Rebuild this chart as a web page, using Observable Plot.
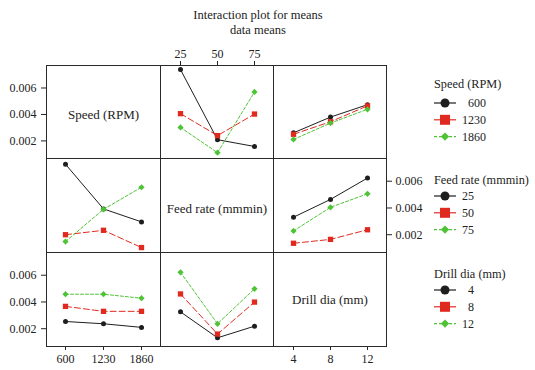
<!DOCTYPE html>
<html><head><meta charset="utf-8">
<script src="https://cdn.jsdelivr.net/npm/d3@7"></script>
<script src="https://cdn.jsdelivr.net/npm/@observablehq/plot@0.6"></script>
<style>
body{margin:0;background:#fff;}
#chart{position:relative;width:535px;height:370px;font-family:"Liberation Serif","Times New Roman",Times,serif;color:#222;overflow:hidden;}
#chart svg{position:absolute;overflow:visible;}
.title{position:absolute;left:158px;top:7.5px;width:200px;text-align:center;font-size:12.5px;line-height:15px;}
</style></head><body><div id="chart"><div class="title">Interaction plot for means<br>data means</div></div>
<script>
// Factor levels (tick labels)
const speedLevels = ["600", "1230", "1860"];
const feedLevels = ["25", "50", "75"];
const drillLevels = ["4", "8", "12"];
const factorNames = ["Speed (RPM)", "Feed rate (mmmin)", "Drill dia (mm)"];
const yTicks = [0.002, 0.004, 0.006];

// Means: rows = series (levels of row factor), cols = x levels (column factor)
const speedXfeed  = [[0.00739, 0.00209, 0.00158], [0.00406, 0.00240, 0.00403], [0.00302, 0.00111, 0.00570]];
const speedXdrill = [[0.00261, 0.00380, 0.00474], [0.00250, 0.00345, 0.00465], [0.00211, 0.00335, 0.00439]];
const feedXspeed  = [[0.00727, 0.00393, 0.00296], [0.00200, 0.00233, 0.00104], [0.00149, 0.00390, 0.00555]];
const feedXdrill  = [[0.00331, 0.00464, 0.00624], [0.00136, 0.00165, 0.00237], [0.00228, 0.00405, 0.00506]];
const drillXspeed = [[0.00254, 0.00237, 0.00210], [0.00367, 0.00330, 0.00330], [0.00458, 0.00458, 0.00428]];
const drillXfeed  = [[0.00326, 0.00132, 0.00219], [0.00460, 0.00160, 0.00399], [0.00622, 0.00237, 0.00498]];

const levels = [speedLevels, feedLevels, drillLevels];
const panelData = {"0-1": speedXfeed, "0-2": speedXdrill, "1-0": feedXspeed, "1-2": feedXdrill, "2-0": drillXspeed, "2-1": drillXfeed};

const FONT = "'Liberation Serif', 'Times New Roman', Times, serif";
const colX = [46, 160, 273, 386], rowY = [65, 158, 252, 346];
const yDomain = [0.00067, 0.0077];
const colors = ["#1e1e1e", "#e12a1f", "#4fc336"];
const dashes = [null, "6,3", "3,2"];
const symbols = ["circle", "square", "diamond2"];
const radii = [2.5, 3.0, 2.8];
const fmt = d3.format(".3f");
const chart = document.getElementById("chart");

for (let r = 0; r < 3; r++) {
  for (let c = 0; c < 3; c++) {
    const m = {
      top: (r === 0 && c === 1) ? 22 : 1,
      left: (c === 0 && r !== 1) ? 46 : 1,
      right: (r === 1 && c === 2) ? 50 : 1,
      bottom: (r === 2 && c !== 1) ? 24 : 1
    };
    const w = colX[c + 1] - colX[c], h = rowY[r + 1] - rowY[r];
    const marks = [];
    if (r === c) {
      marks.push(Plot.text([factorNames[r]], {frameAnchor: "middle", text: d => d, fontSize: 13, dy: r === 2 ? 0 : 3, fill: "#222"}));
    } else {
      const arr = panelData[r + "-" + c];
      for (let s = 0; s < 3; s++) {
        const rows = levels[c].map((lv, i) => ({x: lv, y: arr[s][i], series: levels[r][s]}));
        marks.push(Plot.line(rows, {x: "x", y: "y", stroke: colors[s], strokeWidth: 1, strokeDasharray: dashes[s]}));
        marks.push(Plot.dot(rows, {x: "x", y: "y", symbol: symbols[s], fill: colors[s], r: radii[s], stroke: "none"}));
      }
    }
    if (m.left > 1) marks.push(Plot.axisY(yTicks, {anchor: "left", tickFormat: fmt, tickSize: 5, tickPadding: 5, label: null}));
    if (m.right > 1) marks.push(Plot.axisY(yTicks, {anchor: "right", tickFormat: fmt, tickSize: 5, tickPadding: 4, label: null}));
    if (m.top > 1) marks.push(Plot.axisX({anchor: "top", tickSize: 5, tickPadding: 3, label: null}));
    if (m.bottom > 1) marks.push(Plot.axisX({anchor: "bottom", tickSize: 4, tickPadding: 4, label: null}));
    marks.push(Plot.frame({stroke: "#2a2a2a", strokeWidth: 1}));
    const needX = r !== c || m.top > 1 || m.bottom > 1;
    const needY = r !== c || m.left > 1 || m.right > 1;
    const opts = {
      width: w + m.left + m.right,
      height: h + m.top + m.bottom,
      marginTop: m.top, marginLeft: m.left, marginRight: m.right, marginBottom: m.bottom,
      style: {fontFamily: FONT, fontSize: "12px", background: "transparent", color: "#222", overflow: "visible"},
      marks
    };
    if (needX) opts.x = {type: "point", domain: levels[c], padding: 0.5, axis: null};
    if (needY) opts.y = {domain: yDomain, axis: null};
    const svg = Plot.plot(opts);
    svg.style.left = (colX[c] - m.left) + "px";
    svg.style.top = (rowY[r] - m.top) + "px";
    chart.appendChild(svg);
  }
}

// Legends
const legTitleY = [84, 180, 274];
const legFirst = [19, 16, 16];
const lsvg = d3.select(chart).append("svg").attr("width", 535).attr("height", 370)
  .style("left", "0px").style("top", "0px").style("pointer-events", "none")
  .style("font-family", FONT);
const legSym = [d3.symbolCircle, d3.symbolSquare, d3.symbolDiamond2];
const legSize = [64, 100, 44];
for (let k = 0; k < 3; k++) {
  const g = lsvg.append("g");
  g.append("text").attr("x", 434).attr("y", legTitleY[k]).attr("dy", "0.35em")
    .attr("font-size", 12.3).attr("fill", "#222").text(factorNames[k]);
  const maxLen = d3.max(levels[k], d => d.length);
  levels[k].forEach((lv, i) => {
    const y = legTitleY[k] + legFirst[k] + i * 16.8;
    g.append("line").attr("x1", 434).attr("x2", 456).attr("y1", y).attr("y2", y)
      .attr("stroke", colors[i]).attr("stroke-width", 1.2)
      .attr("stroke-dasharray", i === 2 ? "3,2" : null);
    g.append("path").attr("d", d3.symbol(legSym[i], legSize[i])())
      .attr("transform", `translate(445,${y})`).attr("fill", colors[i]);
    g.append("text").attr("x", 462 + maxLen * 6).attr("y", y).attr("dy", "0.35em")
      .attr("text-anchor", "end").attr("font-size", 12).attr("fill", "#222").text(lv);
  });
}
</script></body></html>
